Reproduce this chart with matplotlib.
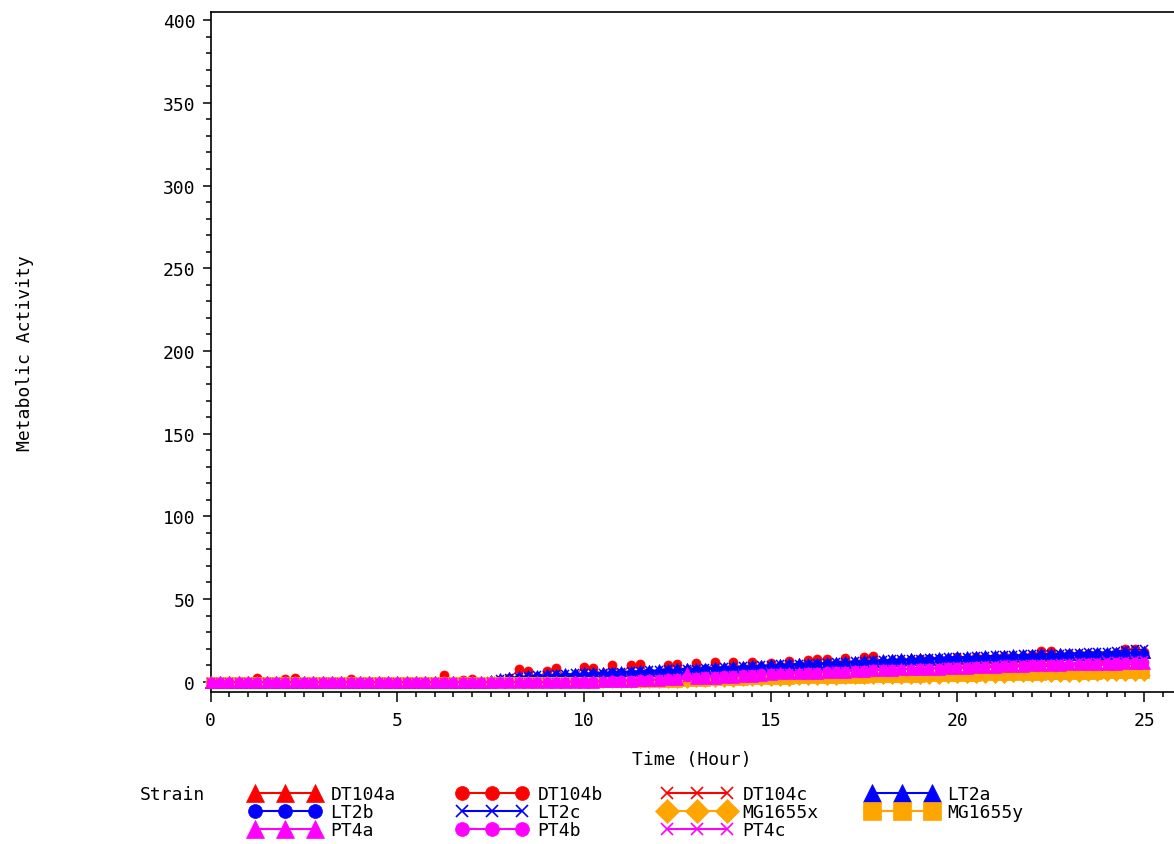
import matplotlib
matplotlib.use("Agg")
import matplotlib.pyplot as plt
from matplotlib.lines import Line2D
from matplotlib.ticker import MultipleLocator

# ---------------- data ----------------
TIME_H = [i * 0.25 for i in range(101)]  # sampling every 15 minutes, 0..25 h

DT104a = [0,0,0,0,0,0,0,0,0,0,
          0,0,0,0,0,0,0,0,0,0,
          0,0,0,0,0,0,0,0,0,0,
          0,1,2,2.5,3,3,3.5,4,4,4.5,
          4.5,5,5,5.5,5.5,6,6,6.5,6.5,7,
          7,7.5,7.5,8,8,8.5,8.5,9,9,9.5,
          9.5,10,10,10.5,10.5,11,11,11.5,11.5,12,
          12,12.5,12.5,13,13,13.5,13.5,14,14,14,
          14.5,14.5,15,15,15,15.5,15.5,15.5,16,16,
          16,16.5,16.5,16.5,17,17,17,17.5,17.5,17.5,
          18]
DT104b = [0,0,0,0,0,2.5,0,0,1.5,2.5,
          0,0,0,0,0,1.5,0,0,0,0,
          0,0,0,0,0,4,0,1,1.5,0,
          0.5,1,2,7.5,6.5,2,6.5,8.5,3,3.5,
          9,8.5,4,10,5,10,10.5,5,5.5,10,
          10.5,6,11.5,6.5,12,7,12,7.5,12,8,
          11.5,9,12.5,9.5,13,13.5,14,10.5,14.5,11,
          15,15.5,12,12.5,13,13,13.5,13.5,14,14,
          15,14.5,15,15,15,15.5,15.5,15.5,16,18.5,
          18.5,16,16.5,16.5,17,17,17,17.5,19.5,20,
          18]
DT104c = [0,0,0,0,0,0,0,0,0,0,
          0,0,0,0,0,0,0,0,0,0,
          0,0,0,0,0,0,0,0,0,0,
          0,0,0,0,0.5,0.5,0.5,1,1,1,
          1.5,1.5,1.5,2,2,2,2.5,2.5,2.5,3,
          3.5,3.5,4,4,4,4.5,4.5,5,5,5,
          5.5,5.5,5.5,6,6,6,6.5,6.5,6.5,7,
          7,7,7,7.5,7.5,7.5,7.5,8,8,8,
          8,8.5,8.5,8.5,8.5,9,9,9,9,9,
          9.5,9.5,9.5,9.5,10,10,10,10,10,10.5,
          10.5]
LT2a = [0,0,0,0,0,0,0,0,0,0,
        0,0,0,0,0,0,0,0,0,0,
        0,0,0,0,0,0,0,0,0,0,
        0.5,1.5,2.5,3,3.5,3.5,4,4,4.5,4.5,
        5,5,5.5,5.5,6,6,6.5,6.5,7,7,
        7.5,7.5,8,8,8.5,8.5,9,9,9.5,9.5,
        10,10,10.5,10.5,11,11,11.5,11.5,12,12,
        12.5,12.5,13,13,13.5,13.5,14,14,14.5,14.5,
        15,15,15,15.5,15.5,15.5,16,16,16,16.5,
        16.5,16.5,17,17,17,17.5,17.5,17.5,18,18,
        18]
LT2b = [0,0,0,0,0,0,0,0,0,0,
        0,0,0,0,0,0,0,0,0,0,
        0,0,0,0,0,0,0,0,0,0,
        0,0.5,1.5,2,2.5,3,3,3.5,3.5,4,
        4,4.5,4.5,5,5,5.5,5.5,6,6,6.5,
        6.5,7,7,7.5,7.5,8,8,8.5,8.5,9,
        9,9.5,9.5,10,10,10.5,10.5,11,11,11.5,
        11.5,12,12,12.5,12.5,13,13,13.5,13.5,13.5,
        14,14,14,14.5,14.5,14.5,15,15,15,15.5,
        15.5,15.5,16,16,16,16.5,16.5,16.5,17,17,
        17]
LT2c = [0,0,0,0,0,0,0,0,0,0,
        0,0,0,0,0,0,0,0,0,0,
        0,0,0,0,0,0,0,0,0,0,
        0.5,1.5,2.5,3,3.5,4,4,4.5,4.5,5,
        5,5.5,5.5,6,6,6.5,6.5,7,7,7.5,
        7.5,8,8,8.5,8.5,9,9,9.5,9.5,10,
        10,10.5,10.5,11,11,11.5,11.5,12,12,12.5,
        12.5,13,13,13.5,13.5,14,14,14.5,14.5,15,
        15,15,15.5,15.5,16,16,16,16.5,16.5,17,
        17,17,17.5,17.5,18,18,18,18.5,19,19.5,
        19.5]
MG1655x = [0,0,0,0,0,0,0,0,0,0,
           0,0,0,0,0,0,0,0,0,0,
           0,0,0,0,0,0,0,0,0,0,
           0,0,0,0,0,0,0,0,0,0,
           0,0,0,0,0,0,0,0,0,0,
           0,0,0.5,0.5,0.5,0.5,0.5,1,1,1,
           1,1,1,1.5,1.5,1.5,1.5,1.5,2,2,
           2,2,2,2,2.5,2.5,2.5,2.5,2.5,3,
           3,3,3,3,3,3,3.5,3.5,3.5,3.5,
           3.5,3.5,3.5,3.5,4,4,4,4,4,4,
           4]
MG1655y = [0,0,0,0,0,0,0,0,0,0,
           0,0,0,0,0,0,0,0,0,0,
           0,0,0,0,0,0,0,0,0,0,
           0,0,0,0,0,0,0,0,0,0,
           0,0,0,0,0,0,0,0,0,0,
           0,0.5,0.5,0.5,1,1,1,1,1.5,1.5,
           1.5,1.5,1.5,2,2,2,2,2.5,2.5,2.5,
           2.5,3,3,3,3,3,3,3.5,3.5,3.5,
           3.5,3.5,3.5,4,4,4,4,4,4,4,
           4.5,4.5,4.5,4.5,4.5,4.5,5,5,5,5,
           5]
PT4a = [0,0,0,0,0,0,0,0,0,0,
        0,0,0,0,0,0,0,0,0,0,
        0,0,0,0,0,0,0,0,0,0,
        0,0,0,0,0,0,0,0,0,0,
        0,0,0.5,0.5,0.5,0.5,1,1,1,1.5,
        1.5,5,2,2.5,2.5,3,3,3.5,3.5,4,
        4.5,5,5,5,5.5,5.5,6,6,6,6.5,
        6.5,7,7,7,7.5,7.5,8,8,8,8.5,
        8.5,8.5,9,9,9,9.5,9.5,9.5,10,10,
        10,10,10.5,10.5,10.5,11,11,11,11.5,11.5,
        11.5]
PT4b = [0,0,0,0,0,0,0,0,0,0,
        0,0,0,0,0,0,0,0,0,0,
        0,0,0,0,0,0,0,0,0,0,
        0,0,0,0,0,0,0,0,0,0.5,
        0.5,0.5,0.5,1,1,1,1.5,1.5,1.5,2,
        2.5,3,3,3.5,3.5,4,4,4.5,4.5,5,
        5,5.5,5.5,5.5,6,6,6.5,6.5,6.5,7,
        7,7.5,7.5,7.5,8,8,8.5,8.5,8.5,9,
        9,9,9.5,9.5,9.5,10,10,10,10.5,10.5,
        10.5,11,11,11,11.5,11.5,11.5,12,12,12,
        12]
PT4c = [0,0,0,0,0,0,0,0,0,0,
        0,0,0,0,0,0,0,0,0,0,
        0,0,0,0,0,0,0,0,0,0,
        0,0,0,0,0,0,0,0,0,0,
        0,0,0.5,0.5,0.5,1,1,1,1.5,1.5,
        2,2.5,3,3.5,3.5,3.5,4,4,4.5,4.5,
        5,5,5.5,5.5,6,6,6,6.5,6.5,7,
        7,7.5,7.5,8,8,8,8.5,8.5,9,9,
        9.5,9.5,9.5,10,10,10.5,10.5,10.5,11,11,
        11,11.5,11.5,12,12,12,12.5,12.5,12.5,13,
        13]

STRAINS = ["DT104a", "DT104b", "DT104c", "LT2a", "LT2b", "LT2c",
           "MG1655x", "MG1655y", "PT4a", "PT4b", "PT4c"]
VALUES = [DT104a, DT104b, DT104c, LT2a, LT2b, LT2c,
          MG1655x, MG1655y, PT4a, PT4b, PT4c]
Y_TICKS = [0, 50, 100, 150, 200, 250, 300, 350, 400]
X_TICKS = [0, 5, 10, 15, 20, 25]

# ---------------- styles ----------------
RED, BLUE, ORANGE, MAG = "#FF0000", "#0000FF", "#FFA500", "#FF00FF"
STYLE = {
    "DT104a": (RED, "^"), "DT104b": (RED, "o"), "DT104c": (RED, "x"),
    "LT2a": (BLUE, "^"), "LT2b": (BLUE, "o"), "LT2c": (BLUE, "x"),
    "MG1655x": (ORANGE, "D"), "MG1655y": (ORANGE, "s"),
    "PT4a": (MAG, "^"), "PT4b": (MAG, "o"), "PT4c": (MAG, "x"),
}
PLOT_MS = {"^": 8, "o": 6.5, "x": 6, "D": 6.5, "s": 7}
LEG_MS = {"^": 12.5, "o": 10, "x": 9, "D": 12, "s": 12.5}

FONT = "DejaVu Sans Mono"
plt.rcParams["font.family"] = FONT

W, H = 1174, 845
fig = plt.figure(figsize=(W / 100, H / 100), dpi=100)

# axes placement in pixels
x0_px, y_top_px, y_bot_px = 210.5, 12.5, 693
px_per_x = 37.34
xmax = 26
ax = fig.add_axes([x0_px / W, (H - y_bot_px) / H,
                   xmax * px_per_x / W, (y_bot_px - y_top_px) / H])

for name, vals in zip(STRAINS, VALUES):
    assert len(vals) == len(TIME_H)
    c, m = STYLE[name]
    ax.plot(TIME_H, vals, color=c, marker=m, markersize=PLOT_MS[m],
            markeredgewidth=1.1 if m == "x" else 0.5, lw=0.9,
            clip_on=False, zorder=3)

ax.set_xlim(0, xmax)
ax.set_ylim(-6.2, 405.2)

for s in ["left", "top", "bottom"]:
    ax.spines[s].set_linewidth(1.2)
ax.spines["right"].set_visible(False)

ax.xaxis.set_minor_locator(MultipleLocator(0.5))
ax.yaxis.set_minor_locator(MultipleLocator(10))
ax.set_xticks(X_TICKS)
ax.set_yticks(Y_TICKS)
ax.set_xticklabels([str(v) for v in X_TICKS])
ax.set_yticklabels([str(v) for v in Y_TICKS])
ax.tick_params(axis="x", which="major", direction="out", length=7.5, width=1.1,
               pad=6, labelsize=13)
ax.tick_params(axis="x", which="minor", direction="out", length=3.5, width=1.1)
ax.tick_params(axis="y", which="major", direction="out", length=6, width=1.1,
               pad=5, labelsize=13)
ax.tick_params(axis="y", which="minor", direction="out", length=3.5, width=1.1)

ax.set_xlabel("Time (Hour)", fontsize=13)
ax.xaxis.set_label_coords((692 - x0_px) / (xmax * px_per_x), -(760 - y_bot_px) / (y_bot_px - y_top_px))
ax.xaxis.label.set_verticalalignment("center")
ax.set_ylabel("Metabolic Activity", fontsize=13)
ax.yaxis.set_label_coords((25 - x0_px) / (xmax * px_per_x), 0.5)
ax.yaxis.label.set_verticalalignment("center")

# ---------------- legend ----------------
fig.text(140 / W, 1 - 795 / H, "Strain", fontsize=13, ha="left", va="center")

columns = [["DT104a", "LT2b", "PT4a"],
           ["DT104b", "LT2c", "PT4b"],
           ["DT104c", "MG1655x", "PT4c"],
           ["LT2a", "MG1655y"]]
col_x = [250, 457, 662, 867]
for names, cx in zip(columns, col_x):
    handles = []
    for n in names:
        c, m = STYLE[n]
        handles.append(Line2D([], [], color=c, marker=m, markersize=LEG_MS[m],
                              markeredgewidth=1.2 if m == "x" else 0.5, lw=1.5))
    fig.legend(handles, names, loc="upper left",
               bbox_to_anchor=(cx / W, 1 - 786 / H),
               frameon=False, fontsize=13, numpoints=3,
               handlelength=3.9, handletextpad=0.55,
               labelspacing=0.0, borderpad=0, borderaxespad=0,
               handleheight=0.7)

fig.savefig("out.png", dpi=100)
